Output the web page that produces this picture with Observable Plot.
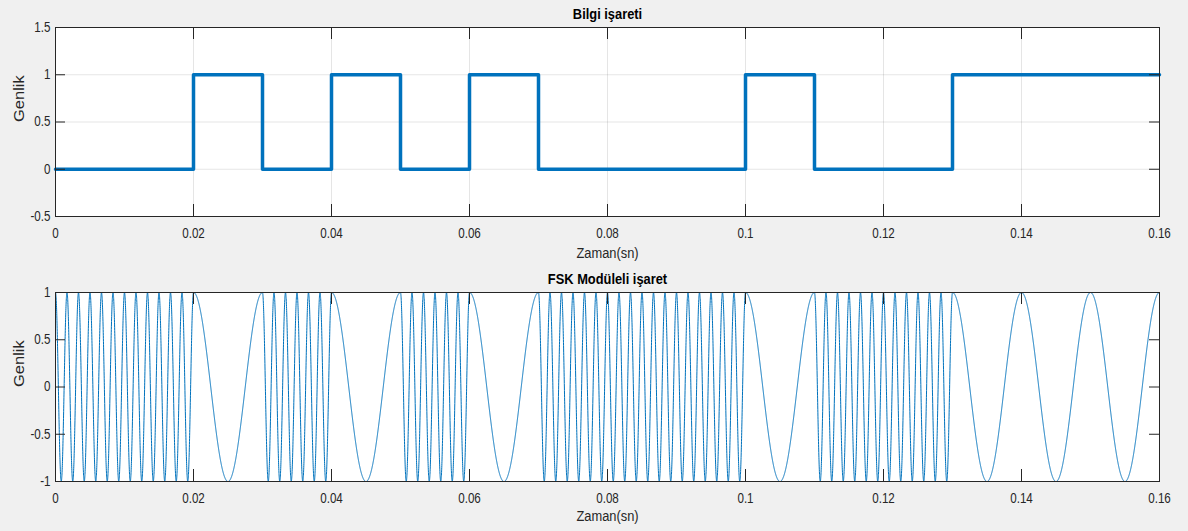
<!DOCTYPE html>
<html>
<head>
<meta charset="utf-8">
<script src="https://cdn.jsdelivr.net/npm/d3@7"></script>
<script src="https://cdn.jsdelivr.net/npm/@observablehq/plot@0.6"></script>
<style>
  html, body { margin: 0; padding: 0; background: #f0f0f0; }
  #chart { width: 1188px; height: 531px; background: #f0f0f0; overflow: hidden; }
  #chart svg { display: block; }
</style>
</head>
<body>
<div id="chart"></div>
<script>
// ---- data ----
const bits = [0, 0, 1, 0, 1, 0, 1, 0, 0, 0, 1, 0, 0, 1, 1, 1];
const bitDuration = 0.01;          // seconds per bit
const freqForBit = {0: 600, 1: 100}; // Hz (FSK carrier per bit)
const sampleStep = 0.00001;        // sampling period of the waveform
const xTicks = [0, 0.02, 0.04, 0.06, 0.08, 0.1, 0.12, 0.14, 0.16];
const yTicksTop = [-0.5, 0, 0.5, 1, 1.5];
const yTicksBottom = [-1, -0.5, 0, 0.5, 1];
const titleTop = "Bilgi işareti";
const titleBottom = "FSK Modüleli işaret";
const xLabel = "Zaman(sn)";
const yLabel = "Genlik";

// ---- derived tables ----
const tEnd = bits.length * bitDuration;
const bitTable = bits.map((b, i) => ({t: i * bitDuration, v: b}));
bitTable.push({t: tEnd, v: bits[bits.length - 1]});

const nSamples = Math.round(tEnd / sampleStep);
const fskTable = [];
for (let k = 0; k <= nSamples; k++) {
  const t = k * sampleStep;
  const idx = Math.min(bits.length - 1, Math.floor(t / bitDuration + 1e-9));
  const f = freqForBit[bits[idx]];
  fskTable.push({t, v: Math.cos(2 * Math.PI * f * t)});
}

const W = 1188;
const ML = 55, MR = 29;
const axisColor = "#262626";
const lineColor = "#0072BD";
const font = "'Liberation Sans', Arial, Helvetica, sans-serif";
const fmt = d => String(d);

// narrow-tall look of the reference text (only appends a scale to each text's own transform)
function condense(svg) {
  svg.querySelectorAll("text").forEach(t => {
    const tr = t.getAttribute("transform");
    if (!tr) return;
    const rotated = /rotate/.test(tr);
    t.setAttribute("transform", `${tr} ${rotated ? "scale(1,0.88)" : "scale(0.83,1)"}`);
  });
  return svg;
}

function panel({height, marginTop, marginBottom, yDomain, yTicks, grid, title, data, strokeWidth, xTickPad, xLabelDy}) {
  const innerH = height - marginTop - marginBottom;
  const innerW = W - ML - MR;
  const xTickLen = 12, yTickLen = 10;
  const marks = [];
  if (grid) {
    marks.push(Plot.gridX({ticks: xTicks, stroke: "#000", strokeOpacity: 0.1}));
    marks.push(Plot.gridY({ticks: yTicks, stroke: "#000", strokeOpacity: 0.1}));
  }
  marks.push(
    Plot.line(data, {x: "t", y: "v", stroke: lineColor, strokeWidth, curve: grid ? "step-after" : "linear"}),
    // inward ticks, four sides
    Plot.ruleX(xTicks, {x: d => d, insetTop: innerH - xTickLen, stroke: axisColor}),
    Plot.ruleX(xTicks, {x: d => d, insetBottom: innerH - xTickLen, stroke: axisColor}),
    Plot.ruleY(yTicks, {y: d => d, insetRight: innerW - yTickLen, stroke: axisColor}),
    Plot.ruleY(yTicks, {y: d => d, insetLeft: innerW - yTickLen, stroke: axisColor}),
    Plot.frame({stroke: axisColor, strokeWidth: 1}),
    Plot.axisX({ticks: xTicks, tickSize: 0, tickPadding: xTickPad, tickFormat: fmt, label: null, fontSize: 14}),
    Plot.axisY({ticks: yTicks, tickSize: 0, tickPadding: 5, tickFormat: fmt, label: null, fontSize: 14}),
    Plot.text([title], {text: d => d, frameAnchor: "top", dy: -13, lineAnchor: "middle", fontWeight: "bold", fontSize: 15.5, fill: "#000"}),
    Plot.text([xLabel], {text: d => d, frameAnchor: "bottom", dy: xLabelDy, lineAnchor: "middle", fontSize: 15.5}),
    Plot.text([yLabel], {text: d => d, frameAnchor: "left", dx: -36, rotate: -90, lineAnchor: "middle", fontSize: 16.5})
  );
  return condense(Plot.plot({
    width: W,
    height,
    marginLeft: ML,
    marginRight: MR,
    marginTop,
    marginBottom,
    x: {domain: [0, tEnd], axis: null},
    y: {domain: yDomain, axis: null},
    style: {background: "transparent", color: axisColor, fontFamily: font, fontSize: "14px", overflow: "visible"},
    marks: [
      Plot.frame({fill: "#fff", stroke: "none"}),
      ...marks
    ]
  }));
}

const chart = document.getElementById("chart");
chart.appendChild(panel({
  height: 265, marginTop: 27, marginBottom: 49,
  yDomain: [-0.5, 1.5], yTicks: yTicksTop, grid: true,
  title: titleTop, data: bitTable, strokeWidth: 3.5, xTickPad: 12, xLabelDy: 37
}));
chart.appendChild(panel({
  height: 266, marginTop: 27, marginBottom: 50,
  yDomain: [-1, 1], yTicks: yTicksBottom, grid: false,
  title: titleBottom, data: fskTable, strokeWidth: 1, xTickPad: 12, xLabelDy: 35
}));
</script>
</body>
</html>
